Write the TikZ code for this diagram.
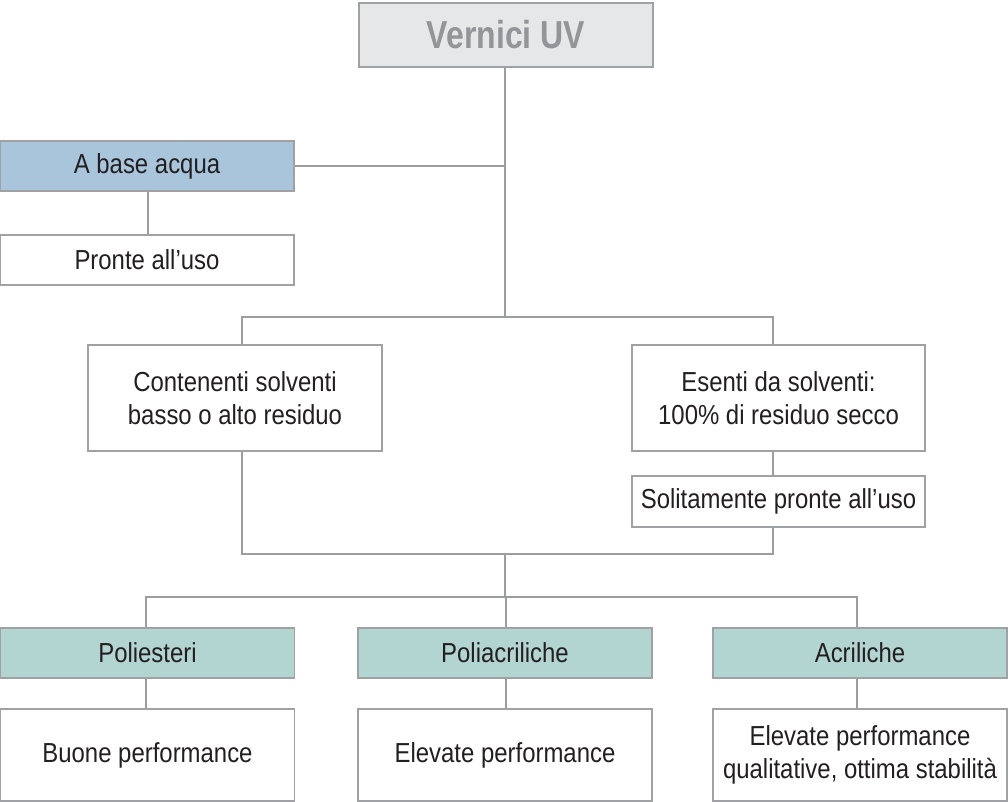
\documentclass[tikz,border=0pt]{standalone}
\usepackage{fontspec}
\setmainfont{Liberation Sans}[FakeStretch=0.87]
\newfontfamily\titlefont{Liberation Sans}[FakeStretch=0.82]
\definecolor{boxline}{HTML}{A0A1A4}
\definecolor{linkc}{HTML}{9C9DA0}
\definecolor{topfill}{HTML}{E6E7E8}
\definecolor{titlec}{HTML}{939598}
\definecolor{acq}{HTML}{A8C5DC}
\definecolor{tealc}{HTML}{B3D5D1}
\definecolor{txt}{HTML}{231F20}
\begin{document}
\begin{tikzpicture}[x=1pt,y=-1pt,
  box/.style={draw=boxline, fill=white, line width=1.3pt, minimum width=294pt, minimum height=50pt,
    inner sep=0pt, align=center, font=\fontsize{27.5}{32.5}\selectfont, text=txt},
  link/.style={draw=linkc, line width=2pt}]
\useasboundingbox (0,0) rectangle (1008,802);

\node[box, fill=topfill, minimum height=64pt, text=titlec,
  font=\titlefont\bfseries\fontsize{39}{40}\selectfont] (top) at (506,35) {Vernici UV};
\node[box, fill=acq] (acqua) at (147,166) {A base acqua};
\node[box] (pronte) at (147,260) {Pronte all’uso};
\node[box, minimum height=106pt] (cont) at (235,398) {Contenenti solventi\\basso o alto residuo};
\node[box, minimum height=106pt, minimum width=293pt] (esenti) at (778.5,398) {Esenti da solventi:\\100\% di residuo secco};
\node[box, minimum width=293pt, minimum height=51pt] (solit) at (778.5,501.5) {Solitamente pronte all’uso};
\node[box, fill=tealc] (poli) at (147.5,653) {Poliesteri};
\node[box, fill=tealc] (polia) at (505,653) {Poliacriliche};
\node[box, fill=tealc] (acril) at (860,653) {Acriliche};
\node[box, minimum height=92pt] (buone) at (147.5,755) {Buone performance};
\node[box, minimum height=92pt] (elev) at (505,755) {Elevate performance};
\node[box, minimum height=92pt] (elevq) at (860,755) {Elevate performance\\qualitative, ottima stabilità};

\coordinate (j1) at (505,317);
\coordinate (lc) at (242,317);
\coordinate (rc) at (773,317);
\coordinate (xa) at (148,0);
\coordinate (j2) at (505,554);
\coordinate (j3) at (505,597);
\coordinate (x1) at (146,0);
\coordinate (x2) at (506,0);
\coordinate (x3) at (857,0);

\draw[link] (top.south -| j1) -- (j1);
\draw[link] (acqua.east) -- (acqua.east -| j1);
\draw[link] (acqua.south -| xa) -- (pronte.north -| xa);
\draw[link] (cont.north -| lc) -- (lc) -- (rc) -- (esenti.north -| rc);
\draw[link] (esenti.south -| rc) -- (solit.north -| rc);
\draw[link] (cont.south -| lc) -- (lc |- j2) -- (rc |- j2) -- (solit.south -| rc);
\draw[link] (j2) -- (j3);
\draw[link] (poli.north -| x1) -- (x1 |- j3) -- (x3 |- j3) -- (acril.north -| x3);
\draw[link] (polia.north -| x2) -- (x2 |- j3);
\draw[link] (poli.south -| x1) -- (buone.north -| x1);
\draw[link] (polia.south -| x2) -- (elev.north -| x2);
\draw[link] (acril.south -| x3) -- (elevq.north -| x3);
\end{tikzpicture}
\end{document}
